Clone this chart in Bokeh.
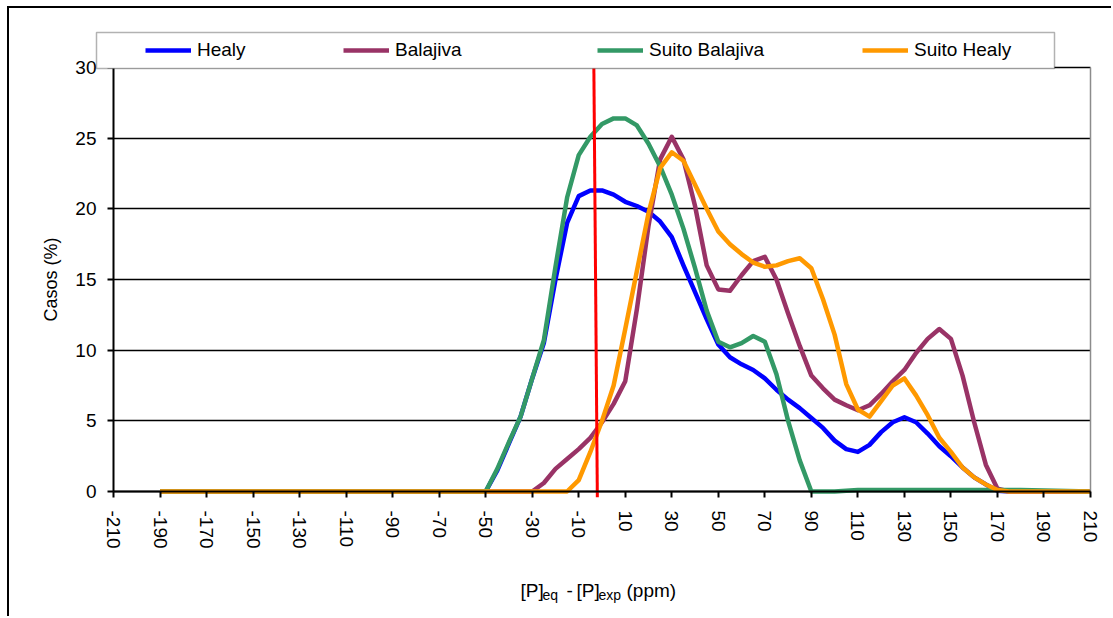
import math
from bokeh.plotting import figure
from bokeh.models import Range1d, FixedTicker, Legend, LegendItem, BoxAnnotation, Label
from bokeh.embed import file_html
from bokeh.resources import INLINE

FONT = "Liberation Sans"

# ---- data ----
x_ppm = [-190, -50, -45, -40, -35, -30, -25, -20, -15, -10, -5, 0, 5, 10, 15, 20,
         25, 30, 35, 40, 45, 50, 55, 60, 65, 70, 75, 80, 85, 90, 95, 100, 105,
         110, 115, 120, 125, 130, 135, 140, 145, 150, 155, 160, 165, 170, 175,
         180, 210]

healy = [0, 0, 1.5, 3.4, 5.3, 8.0, 10.5, 15.0, 19.0, 20.9, 21.3, 21.3, 21.0,
         20.5, 20.2, 19.8, 19.1, 18.0, 16.0, 14.1, 12.2, 10.4, 9.5, 9.0, 8.6,
         8.0, 7.2, 6.5, 5.9, 5.2, 4.5, 3.6, 3.0, 2.8, 3.3, 4.2, 4.9, 5.25, 4.9,
         4.1, 3.2, 2.5, 1.7, 1.0, 0.5, 0.05, 0, 0, 0]

balajiva = [0, 0, 0, 0, 0, 0, 0.6, 1.6, 2.3, 3.0, 3.8, 4.9, 6.2, 7.8, 12.9,
            18.8, 23.5, 25.1, 23.5, 20.2, 16.0, 14.3, 14.2, 15.3, 16.3, 16.6,
            15.0, 12.6, 10.3, 8.2, 7.3, 6.5, 6.1, 5.75, 6.1, 6.9, 7.8, 8.6, 9.8,
            10.8, 11.5, 10.8, 8.2, 4.9, 1.9, 0.2, 0, 0, 0]

suito_balajiva = [0, 0, 1.6, 3.5, 5.3, 8.0, 10.7, 15.9, 20.8, 23.8, 25.1, 26.0,
                  26.4, 26.4, 25.9, 24.6, 23.0, 21.0, 18.6, 15.8, 12.8, 10.6,
                  10.2, 10.5, 11.0, 10.6, 8.3, 5.0, 2.2, 0, 0, 0, 0.05, 0.1,
                  0.1, 0.1, 0.1, 0.1, 0.1, 0.1, 0.1, 0.1, 0.1, 0.1, 0.1, 0.1,
                  0.1, 0.1, 0]

suito_healy = [0, 0, 0, 0, 0, 0, 0, 0, 0, 0.8, 2.8, 5.0, 7.5, 11.5, 15.6, 19.7,
               22.9, 24.0, 23.4, 21.7, 20.0, 18.4, 17.5, 16.8, 16.2, 15.9, 16.0,
               16.3, 16.5, 15.8, 13.6, 11.1, 7.6, 5.8, 5.3, 6.4, 7.5, 8.0, 6.8,
               5.4, 3.8, 2.8, 1.7, 1.0, 0.5, 0.1, 0, 0, 0]

red_x = [-2.0, -3.5]
red_y = [-0.4, 30]

x_ticks = [-210, -190, -170, -150, -130, -110, -90, -70, -50, -30, -10, 10, 30,
           50, 70, 90, 110, 130, 150, 170, 190, 210]
y_ticks = [0, 5, 10, 15, 20, 25, 30]

series_names = ["Healy", "Balajiva", "Suito Balajiva", "Suito Healy"]
series_values = [healy, balajiva, suito_balajiva, suito_healy]
series_colors = ["#0000FF", "#993366", "#339966", "#FF9900"]

# ---- geometry (pixels) ----
PX_X = 977 / 420.0      # px per ppm
PX_Y = 424 / 30.0       # px per %
x_lo = x_ticks[0] - 83 / PX_X
x_hi = x_ticks[-1] + 23 / PX_X
y_hi = y_ticks[-1] + 37 / PX_Y
y_lo = y_ticks[0] - 121 / PX_Y

p = figure(width=1104, height=610, output_backend="svg", toolbar_location=None,
           x_range=Range1d(x_lo, x_hi), y_range=Range1d(y_lo, y_hi),
           min_border_left=21, min_border_right=0, min_border_top=22,
           min_border_bottom=6)
p.styles = {"margin-left": "7px", "margin-top": "6px",
            "border-left": "2px solid black", "border-top": "2px solid black"}
p.background_fill_color = "white"
p.border_fill_color = "white"
p.outline_line_color = None

p.xgrid.visible = False
p.ygrid.ticker = FixedTicker(ticks=y_ticks)
p.ygrid.grid_line_color = "black"
p.ygrid.grid_line_width = 1.6
try:
    p.ygrid.cross_bounds = (x_ticks[0], x_ticks[-1])
except Exception:
    pass

for ax in (p.xaxis[0], p.yaxis[0]):
    ax.axis_line_color = "black"
    ax.axis_line_width = 2
    ax.major_tick_line_color = "black"
    ax.major_tick_line_width = 2
    ax.major_tick_out = 6
    ax.major_tick_in = 0
    ax.minor_tick_line_color = None
    ax.major_label_text_font = FONT
    ax.major_label_text_font_size = "19px"
    ax.major_label_text_color = "black"

p.xaxis.ticker = FixedTicker(ticks=x_ticks)
p.xaxis.major_label_overrides = {t: str(t) for t in x_ticks}
p.xaxis.major_label_orientation = -math.pi / 2
p.xaxis.major_label_standoff = 13
p.xaxis.fixed_location = y_ticks[0]
p.xaxis.bounds = (x_ticks[0], x_ticks[-1])

p.yaxis.ticker = FixedTicker(ticks=y_ticks)
p.yaxis.major_label_standoff = 11
p.yaxis.fixed_location = x_ticks[0]
p.yaxis.bounds = (y_ticks[0], y_ticks[-1])
p.yaxis.axis_label = "Casos (%)"
p.yaxis.axis_label_text_font = FONT
p.yaxis.axis_label_text_font_size = "18px"
p.yaxis.axis_label_text_font_style = "normal"
p.yaxis.axis_label_text_color = "black"
p.yaxis.axis_label_standoff = 11

renderers = []
for name, vals, col in zip(series_names, series_values, series_colors):
    r = p.line(x_ppm, vals, line_color=col, line_width=4.5, line_join="round")
    renderers.append(r)

p.line(red_x, red_y, line_color="#FF0000", line_width=3)

# right edge of plot area
p.segment(x0=[x_ticks[-1]], y0=[y_ticks[0]], x1=[x_ticks[-1]], y1=[y_ticks[-1]],
          line_color="#8c8c8c", line_width=1.5)

# ---- legend box and items (screen px from frame bottom-left) ----
box = BoxAnnotation(left=66, right=1024, bottom=544, top=580,
                    left_units="screen", right_units="screen",
                    bottom_units="screen", top_units="screen",
                    fill_color="white", fill_alpha=1.0,
                    line_color="black", line_width=1.5)
p.add_layout(box)

legend_x = [115, 313, 567, 832]
for name, r, lx in zip(series_names, renderers, legend_x):
    leg = Legend(items=[LegendItem(label=name, renderers=[r])],
                 location=(lx, 551), orientation="horizontal",
                 border_line_alpha=0, background_fill_alpha=0,
                 padding=0, margin=0, glyph_width=46, glyph_height=20,
                 label_height=20, label_standoff=6, label_text_font=FONT,
                 label_text_font_size="19px", label_text_color="black")
    p.add_layout(leg)

# ---- x axis title with subscripts ----
title_parts = [("[P]", 490, 22, "19px"), ("eq", 512, 18, "14px"),
               ("-", 536, 22, "19px"), ("[P]", 546, 22, "19px"),
               ("exp", 568, 18, "14px"), ("(ppm)", 596, 22, "19px")]
for txt, sx, sy, fs in title_parts:
    p.add_layout(Label(x=sx, y=sy, x_units="screen", y_units="screen", text=txt,
                       text_font=FONT, text_font_size=fs, text_color="black",
                       text_baseline="alphabetic", text_align="left"))

open("out.html", "w").write(file_html(p, INLINE))
